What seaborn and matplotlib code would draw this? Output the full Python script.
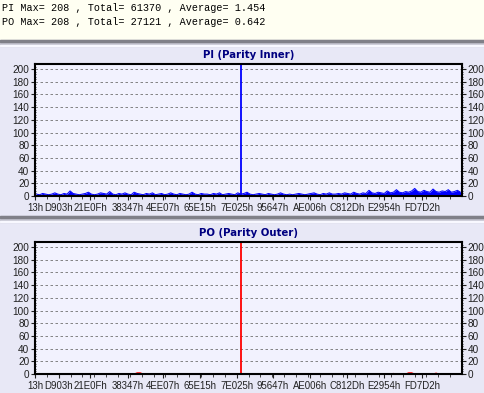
import matplotlib
matplotlib.use('Agg')
import matplotlib.pyplot as plt
import seaborn as sns
import numpy as np
from matplotlib.patches import Rectangle

# Data
pi_vals = [3, 2, 4, 3, 2, 3, 5, 3, 2, 4, 3, 8, 4, 3,
           2, 3, 4, 6, 3, 2, 3, 5, 4, 3, 7, 3, 2, 4,
           3, 5, 3, 2, 6, 4, 3, 2, 4, 3, 5, 2, 3, 4,
           2, 3, 5, 3, 2, 4, 3, 2, 3, 6, 3, 2, 4, 3,
           3, 2, 4, 3, 5, 2, 3, 4, 3, 2, 5, 3, 4, 6,
           3, 2, 3, 4, 3, 2, 4, 3, 2, 3, 5, 3, 2, 3,
           2, 3, 4, 3, 2, 3, 4, 5, 3, 2, 4, 3, 5, 3,
           3, 4, 3, 5, 4, 3, 6, 4, 3, 5, 4, 9, 5, 4,
           6, 5, 4, 8, 5, 6, 10, 6, 5, 7, 6, 8, 12, 7,
           6, 9, 7, 6, 11, 7, 6, 8, 7, 10, 6, 7, 9, 6]
po_vals = [0] * 140
po_vals[33] = 2
po_vals[34] = 2
po_vals[117] = 1
po_vals[122] = 2
po_vals[123] = 2
po_vals[131] = 1.5

x_labels = ['13h', 'D903h', '21E0Fh', '38347h', '4EE07h', '65E15h', '7E025h',
            '95647h', 'AE006h', 'C812Dh', 'E2954h', 'FD7D2h']
x_label_frac = [0.0, 0.056, 0.129, 0.218, 0.300, 0.386, 0.473, 0.557, 0.644, 0.731, 0.817, 0.906]
marker_frac = 0.482

header = ['PI Max= 208 , Total= 61370 , Average= 1.454',
          'PO Max= 208 , Total= 27121 , Average= 0.642']

sns.set_style('white')
plt.rcParams['font.family'] = ['Liberation Sans', 'DejaVu Sans']

W, H = 484, 393
fig = plt.figure(figsize=(W / 100, H / 100), dpi=100)
fig.patch.set_facecolor('#E8E8F6')

# header strip + separators
fig.add_artist(Rectangle((0, 1 - 40 / H), 1, 40 / H, transform=fig.transFigure, color='#FFFFF2', zorder=0))
for y0 in (40, 216):
    fig.add_artist(Rectangle((0, 1 - (y0 + 6) / H), 1, 6 / H, transform=fig.transFigure, color='#C4C4D0', zorder=0))
    fig.add_artist(Rectangle((0, 1 - (y0 + 1.5) / H), 1, 1.5 / H, transform=fig.transFigure, color='#808088', zorder=0))
    fig.add_artist(Rectangle((0, 1 - (y0 + 6) / H), 1, 1 / H, transform=fig.transFigure, color='#F8F8FF', zorder=0))

for i, line in enumerate(header):
    fig.text(2 / W, 1 - (8 + 14 * i) / H, line, family='Liberation Mono', fontsize=7.3,
             va='center', ha='left', color='black')

N = len(pi_vals)
idx = np.arange(N) + 0.5


def draw_panel(top_px, bottom_px, vals, color, title):
    ax = fig.add_axes([35 / W, 1 - bottom_px / H, 427 / W, (bottom_px - top_px) / H])
    ax.set_facecolor('#F2F2FE')
    ax.fill_between(idx, vals, color=color, lw=0)
    sns.lineplot(x=idx, y=vals, ax=ax, color=color, lw=0.7)
    ax.axvline(marker_frac * N, color=color, lw=1.3)
    ax.set_xlim(0, N)
    ax.set_ylim(0, 208)
    ax.set_yticks(range(0, 201, 20))
    ax.set_yticks(range(0, 208, 4), minor=True)
    ax.set_xticks([f * N for f in x_label_frac])
    ax.set_xticklabels(x_labels)
    ax.set_xticks(np.arange(0, N, N / 36), minor=True)
    ax.grid(axis='y', which='major', color='#707070', lw=0.6, ls=(0, (3, 3)))
    ax.grid(axis='x', visible=False)
    for s in ax.spines.values():
        s.set_color('black')
        s.set_linewidth(1.5)
    ax.tick_params(axis='y', which='major', left=True, right=True, labelleft=True, labelright=True,
                   length=3, width=0.8, labelsize=7.2, pad=1, colors='#202020')
    ax.tick_params(axis='y', which='minor', left=True, right=True, length=2, width=0.6, direction='inout')
    ax.tick_params(axis='x', which='major', bottom=True, length=3, width=0.8, labelsize=6.9, pad=2,
                   colors='#202020')
    ax.tick_params(axis='x', which='minor', bottom=True, length=2, width=0.6)
    ax.set_xlabel('')
    ax.set_ylabel('')
    fig.text((35 + 427 / 2) / W, 1 - (top_px - 9) / H, title, ha='center', va='center',
             family='DejaVu Sans', fontsize=7.3, fontweight='bold', color='#000080')
    return ax


draw_panel(64, 196, pi_vals, '#0000FF', 'PI (Parity Inner)')
draw_panel(242, 374, po_vals, '#FF0000', 'PO (Parity Outer)')

fig.savefig('out.png', dpi=100, facecolor=fig.get_facecolor())
